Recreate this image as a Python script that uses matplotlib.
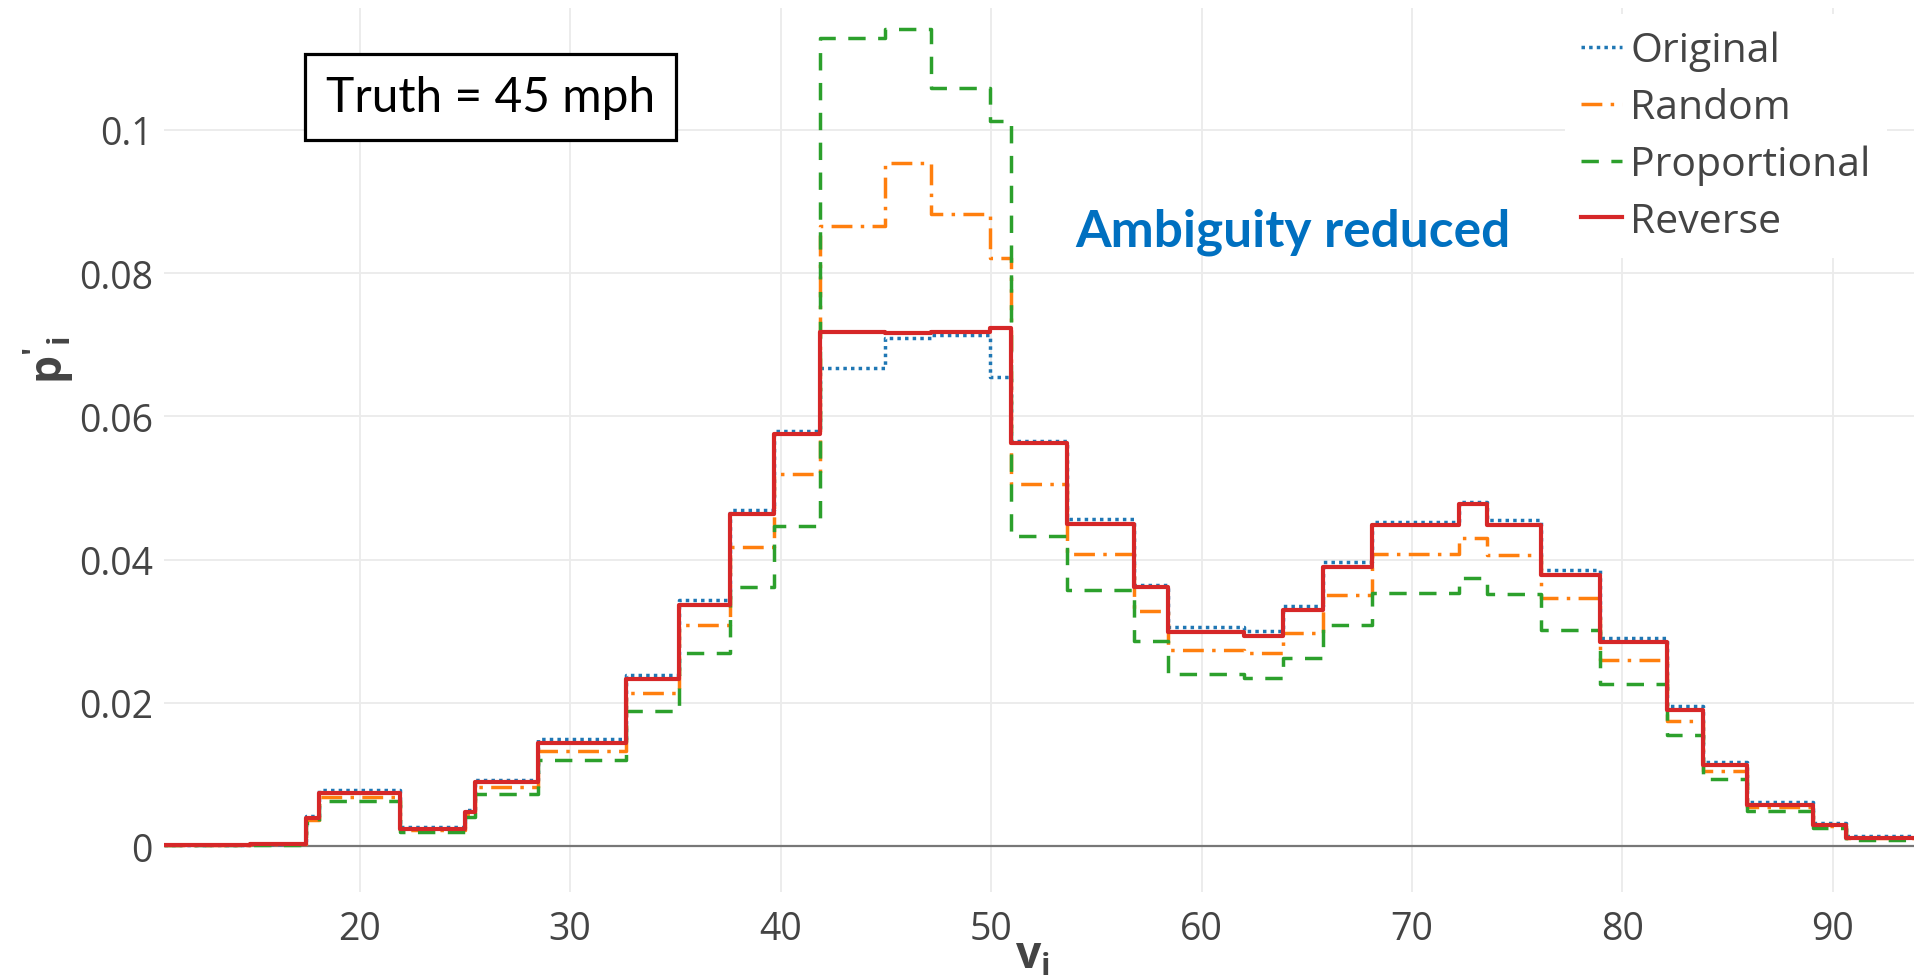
import matplotlib.pyplot as plt

# bin edges (mph) and p'_i for each method
edges = [10.7, 14.77, 17.47, 18.07, 21.93, 24.99, 25.5, 28.45, 32.67, 35.18,
         37.59, 39.68, 41.86, 44.95, 47.14, 49.94, 50.94, 53.59, 56.8, 58.39,
         62.03, 63.88, 65.79, 68.08, 72.25, 73.55, 76.13, 78.94, 82.1, 83.82,
         85.9, 89.04, 90.6, 93.9]

original = [0.0001, 0.0003, 0.0042, 0.0079, 0.0027, 0.0050, 0.0093, 0.0149,
            0.0239, 0.0344, 0.0469, 0.0579, 0.0668, 0.0710, 0.0714, 0.0655,
            0.0566, 0.0456, 0.0365, 0.0306, 0.0300, 0.0335, 0.0397, 0.0453,
            0.0481, 0.0455, 0.0386, 0.0291, 0.0195, 0.0118, 0.0062, 0.0032,
            0.0014]
random_ = [0.0001, 0.0003, 0.0037, 0.0069, 0.0022, 0.0044, 0.0082, 0.0133,
           0.0214, 0.0309, 0.0417, 0.0519, 0.0865, 0.0953, 0.0883, 0.0821,
           0.0505, 0.0408, 0.0328, 0.0274, 0.0269, 0.0298, 0.0350, 0.0408,
           0.0430, 0.0406, 0.0347, 0.0260, 0.0175, 0.0105, 0.0055, 0.0028,
           0.0011]
proportional = [0.0001, 0.0002, 0.0033, 0.0063, 0.0020, 0.0040, 0.0073, 0.0120,
                0.0188, 0.0269, 0.0362, 0.0447, 0.1128, 0.1140, 0.1058, 0.1012,
                0.0433, 0.0357, 0.0286, 0.0241, 0.0235, 0.0262, 0.0309, 0.0354,
                0.0374, 0.0352, 0.0302, 0.0226, 0.0155, 0.0094, 0.0049, 0.0025,
                0.0009]
reverse = [0.0001, 0.0003, 0.0039, 0.0074, 0.0024, 0.0048, 0.0089, 0.0144,
           0.0234, 0.0336, 0.0464, 0.0576, 0.0718, 0.0716, 0.0718, 0.0723,
           0.0563, 0.0450, 0.0362, 0.0299, 0.0294, 0.0330, 0.0390, 0.0448,
           0.0477, 0.0449, 0.0379, 0.0285, 0.0190, 0.0113, 0.0058, 0.0029,
           0.0012]

xticks = [20, 30, 40, 50, 60, 70, 80, 90]
yticks = [0, 0.02, 0.04, 0.06, 0.08, 0.1]
ytick_labels = ['0', '0.02', '0.04', '0.06', '0.08', '0.1']

plt.rcParams['font.family'] = ['Open Sans', 'DejaVu Sans']
plt.rcParams['mathtext.fontset'] = 'custom'
plt.rcParams['mathtext.bf'] = 'Open Sans:bold'
plt.rcParams['mathtext.rm'] = 'Open Sans'

fig = plt.figure(figsize=(19.15, 9.79), dpi=100)
ax = fig.add_axes([164 / 1915, 1 - 893 / 979, 1 - 164 / 1915, (893 - 9) / 979])

series = [
    ('Original', original, '#1f77b4', (0, (1, 1.2)), 2.5),
    ('Random', random_, '#ff7f0e', (0, (6, 2.4, 1, 2.4)), 2.5),
    ('Proportional', proportional, '#2ca02c', (0, (5, 3.6)), 2.5),
    ('Reverse', reverse, '#d62728', '-', 3.0),
]
for name, vals, col, ls, lw in series:
    ax.step(edges, vals + [vals[-1]], where='post', color=col, linestyle=ls,
            linewidth=lw, label=name, zorder=3)

ax.set_xlim(10.7, 93.9)
ax.set_ylim(-0.0064, 0.117)
ax.set_xticks(xticks)
ax.set_yticks(yticks)
ax.set_yticklabels(ytick_labels)
ax.tick_params(length=0, labelsize=27, colors='#444444')
ax.tick_params(axis='x', pad=13)
ax.tick_params(axis='y', pad=8)
for s in ax.spines.values():
    s.set_visible(False)
ax.grid(True, color='#ebebeb', linewidth=1.3, zorder=0)
ax.axhline(0, color='#777777', linewidth=1.6, zorder=2)

fig.text(1032 / 1915, 1 - 958 / 979, r'$\mathbf{v}_\mathbf{i}$', fontsize=32,
         color='#444444', ha='center', va='center')
fig.text(49 / 1915, 1 - 360 / 979, r"$\mathbf{p'}_\mathbf{i}$", fontsize=32,
         color='#444444', ha='center', va='center', rotation=90)

ax.text(26.2, 0.1046, 'Truth = 45 mph', fontsize=34.5, family='Lato',
        ha='center', va='center', zorder=5,
        bbox=dict(boxstyle='square,pad=0.44', facecolor='white',
                  edgecolor='black', linewidth=2.3))
ax.text(53.98, 0.0858, 'Ambiguity reduced', fontsize=37, family='Lato',
        fontweight='bold', color='#0070c0', ha='left', va='center', zorder=5)

leg = ax.legend(loc='upper left', bbox_to_anchor=(0.817, 0.9844),
                bbox_transform=fig.transFigure, borderaxespad=0, fontsize=29.5,
                frameon=True, facecolor='white', edgecolor='none',
                framealpha=1, fancybox=False, handlelength=1.0,
                handletextpad=0.2, labelspacing=0.4, borderpad=0.4)
for t in leg.get_texts():
    t.set_color('#444444')
leg.set_zorder(6)

fig.savefig('out.png', dpi=100)
